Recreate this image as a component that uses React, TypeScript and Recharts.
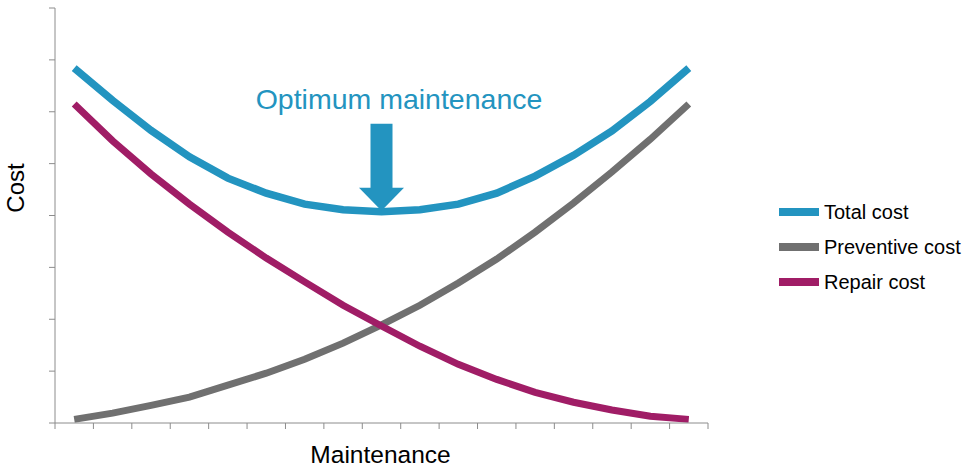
import React from 'react';
import { LineChart, Line, XAxis, YAxis, Legend, ReferenceDot, Label } from 'recharts';

// maintenance level (one per category band) and the three cost curves
const LEVELS = [1, 2, 3, 4, 5, 6, 7, 8, 9, 10, 11, 12, 13, 14, 15, 16, 17];
const TOTAL_COST = [6.84, 6.22, 5.64, 5.13, 4.72, 4.43, 4.22, 4.11, 4.07, 4.11, 4.22, 4.43, 4.76, 5.16, 5.63, 6.2, 6.84];
const PREVENTIVE_COST = [0.07, 0.19, 0.34, 0.5, 0.73, 0.96, 1.23, 1.54, 1.89, 2.27, 2.7, 3.16, 3.68, 4.24, 4.84, 5.47, 6.15];
const REPAIR_COST = [6.15, 5.44, 4.8, 4.22, 3.68, 3.18, 2.72, 2.27, 1.87, 1.48, 1.13, 0.84, 0.59, 0.4, 0.25, 0.13, 0.07];
const SERIES_NAMES = ['Total cost', 'Preventive cost', 'Repair cost'];
const Y_TICKS = [0, 1, 2, 3, 4, 5, 6, 7, 8];
const OPTIMUM_INDEX = 8;

const BLUE = '#2394c0';
const GRAY = '#707070';
const PURPLE = '#a01d66';
const AXIS = '#8c8c8c';
const FONT = '"Liberation Sans", Arial, sans-serif';

const data = LEVELS.map((level, i) => ({
  level,
  total: TOTAL_COST[i],
  preventive: PREVENTIVE_COST[i],
  repair: REPAIR_COST[i],
}));

// tick marks sit on the band boundaries, not on the points
const X_TICKS = [LEVELS[0] - 0.5, ...LEVELS.map((l) => l + 0.5)];

const OptimumArrow = (props: any) => {
  const { cx, cy } = props;
  const tip = cy - 1;
  const pts = [
    [cx - 11, tip - 87],
    [cx + 11, tip - 87],
    [cx + 11, tip - 23],
    [cx + 22.5, tip - 23],
    [cx, tip],
    [cx - 22.5, tip - 23],
    [cx - 11, tip - 23],
  ];
  return (
    <g>
      <polygon points={pts.map((p) => p.join(',')).join(' ')} fill={BLUE} />
      <text x={cx + 17.5} y={cy - 103} textAnchor="middle" fontSize={28.5} fill={BLUE} fontFamily={FONT}>
        Optimum maintenance
      </text>
    </g>
  );
};

const LegendContent = (props: any) => {
  const items = [...(props.payload || [])].sort(
    (a: any, b: any) => SERIES_NAMES.indexOf(a.value) - SERIES_NAMES.indexOf(b.value)
  );
  return (
    <div style={{ fontFamily: FONT }}>
      {items.map((item: any) => (
        <div key={item.value} style={{ display: 'flex', alignItems: 'center', height: 35 }}>
          <span style={{ display: 'inline-block', width: 40, height: 8, background: item.color }} />
          <span style={{ marginLeft: 5, fontSize: 20, color: '#000', lineHeight: '20px' }}>{item.value}</span>
        </div>
      ))}
    </div>
  );
};

const YLabel = (props: any) => {
  const { viewBox } = props;
  const x = viewBox.x + 24;
  const y = 188;
  return (
    <text x={x} y={y} transform={`rotate(-90 ${x} ${y})`} textAnchor="middle" fontSize={24} fill="#000" fontFamily={FONT}>
      Cost
    </text>
  );
};

const XLabel = (props: any) => {
  const { viewBox } = props;
  return (
    <text x={viewBox.x + viewBox.width / 2 - 1} y={viewBox.y + 39.5} textAnchor="middle" fontSize={24.5} fill="#000" fontFamily={FONT}>
      Maintenance
    </text>
  );
};

const App: React.FC = () => {
  return (
    <div style={{ position: 'absolute', left: 0, top: 0, width: 965, height: 468, background: '#fff' }}>
      <LineChart width={965} height={468} data={data} margin={{ top: 8, right: 257, bottom: 0, left: 0 }}>
        <XAxis
          dataKey="level"
          type="number"
          domain={[X_TICKS[0], X_TICKS[X_TICKS.length - 1]]}
          ticks={X_TICKS}
          tickFormatter={() => ''}
          height={45}
          stroke={AXIS}
          tickSize={6}
          interval={0}
        >
          <Label content={<XLabel />} />
        </XAxis>
        <YAxis
          type="number"
          domain={[0, 8]}
          ticks={Y_TICKS}
          tickFormatter={() => ''}
          width={55}
          stroke={AXIS}
          tickSize={6}
          interval={0}
        >
          <Label content={<YLabel />} />
        </YAxis>
        <Line name={SERIES_NAMES[0]} dataKey="total" type="linear" stroke={BLUE} strokeWidth={7.5} dot={false} activeDot={false} isAnimationActive={false} />
        <Line name={SERIES_NAMES[1]} dataKey="preventive" type="linear" stroke={GRAY} strokeWidth={7} dot={false} activeDot={false} isAnimationActive={false} />
        <Line name={SERIES_NAMES[2]} dataKey="repair" type="linear" stroke={PURPLE} strokeWidth={7} dot={false} activeDot={false} isAnimationActive={false} />
        <ReferenceDot x={LEVELS[OPTIMUM_INDEX]} y={TOTAL_COST[OPTIMUM_INDEX]} shape={<OptimumArrow />} />
        <Legend
          layout="vertical"
          align="center"
          verticalAlign="middle"
          content={<LegendContent />}
          wrapperStyle={{ left: 779, top: 194, width: 186 }}
        />
      </LineChart>
    </div>
  );
};

export default App;
